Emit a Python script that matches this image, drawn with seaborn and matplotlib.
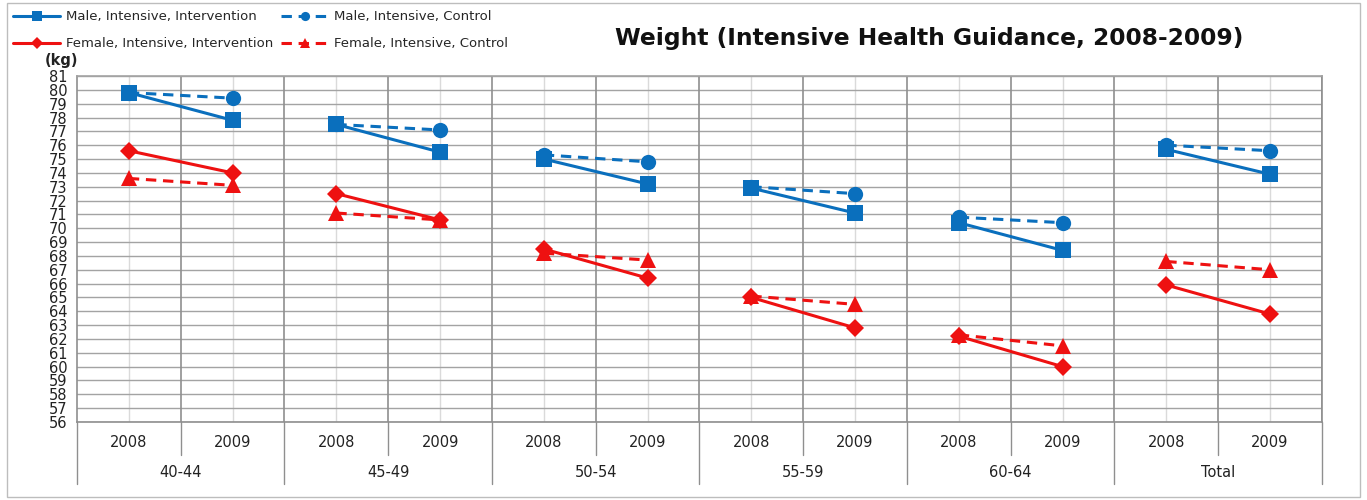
import numpy as np
import pandas as pd
import matplotlib
matplotlib.use("Agg")
import matplotlib.pyplot as plt
import matplotlib.transforms as mtransforms
from matplotlib.lines import Line2D
from matplotlib.patches import Rectangle
import seaborn as sns

# Age groups, survey years and mean body weight (kg) per series
groups = ["40-44", "45-49", "50-54", "55-59", "60-64", "Total"]
years = ["2008", "2009"]

male_intervention = [79.8, 77.8, 77.5, 75.5, 75.0, 73.2, 72.9, 71.1, 70.4, 68.4, 75.7, 73.9]
male_control = [79.8, 79.4, 77.5, 77.1, 75.3, 74.8, 73.0, 72.5, 70.8, 70.4, 76.0, 75.6]
female_intervention = [75.6, 74.0, 72.5, 70.6, 68.5, 66.4, 65.0, 62.8, 62.2, 60.0, 65.9, 63.8]
female_control = [73.6, 73.1, 71.1, 70.6, 68.2, 67.7, 65.1, 64.5, 62.3, 61.5, 67.6, 67.0]

series_names = [
    "Male, Intensive, Intervention",
    "Male, Intensive, Control",
    "Female, Intensive, Intervention",
    "Female, Intensive, Control",
]
series_values = [male_intervention, male_control, female_intervention, female_control]

BLUE = "#0a6fbd"
RED = "#ee1111"
DASH = (0, (3.4, 2.2))
styles = {
    "Male, Intensive, Intervention": dict(color=BLUE, marker="s", ls="-", ms=11),
    "Male, Intensive, Control": dict(color=BLUE, marker="o", ls=DASH, ms=11),
    "Female, Intensive, Intervention": dict(color=RED, marker="D", ls="-", ms=9.5),
    "Female, Intensive, Control": dict(color=RED, marker="^", ls=DASH, ms=11),
}

rows = []
for name, vals in zip(series_names, series_values):
    for i, v in enumerate(vals):
        rows.append({"series": name, "x": i, "group": i // 2, "weight": v})
df = pd.DataFrame(rows)

sns.set_theme(style="white")
plt.rcParams["font.family"] = ["DejaVu Sans"]

fig = plt.figure(figsize=(13.67, 5), dpi=100)
ax = fig.add_axes([0.0563, 0.156, 0.9107, 0.692])

# one line segment per age group (2008 -> 2009)
for name in series_names:
    st = styles[name]
    sns.lineplot(
        data=df[df["series"] == name], x="x", y="weight", units="group",
        estimator=None, sort=False, color=st["color"], marker=st["marker"],
        linestyle=st["ls"], markersize=st["ms"], markeredgewidth=0,
        linewidth=2.2, legend=False, ax=ax, zorder=5,
    )

n = len(groups) * len(years)
ax.set_xlim(-0.5, n - 0.5)
ax.set_ylim(56, 81)
ax.set_yticks(range(56, 82))
ax.set_xticks(range(n))
ax.set_xticklabels([])
ax.set_xlabel("")
ax.set_ylabel("")

ax.yaxis.grid(True, color="#a3a3a3", lw=1.0, zorder=0)
ax.xaxis.grid(True, color="#dadada", lw=1.0, zorder=0)
ax.vlines(np.arange(0.5, n, 1.0), 56, 81, color="#8f8f8f", lw=1.2, zorder=1)
ax.tick_params(axis="x", length=0)
ax.tick_params(axis="y", length=6, width=1, color="#a3a3a3", labelsize=10.5,
               pad=1, labelcolor="#222222")
for side in ["left", "right", "top", "bottom"]:
    ax.spines[side].set_color("#8f8f8f")
    ax.spines[side].set_linewidth(1.2)
ax.spines["top"].set_color("#a3a3a3")

# two-level category axis below the plot
trans = mtransforms.blended_transform_factory(ax.transData, ax.transAxes)
for i in range(n):
    ax.text(i, -0.058, years[i % 2], transform=trans, ha="center", va="center",
            fontsize=10.5, color="#222222")
for g, label in enumerate(groups):
    ax.text(2 * g + 0.5, -0.147, label, transform=trans, ha="center", va="center",
            fontsize=10.5, color="#222222")
for k in range(len(groups)):
    ax.plot([2 * k + 0.5] * 2, [0, -0.095], transform=trans, color="#8f8f8f",
            lw=1, clip_on=False)
for k in range(len(groups) + 1):
    ax.plot([2 * k - 0.5] * 2, [0, -0.18], transform=trans, color="#8f8f8f",
            lw=1, clip_on=False)

# legend
handles = []
order = [0, 2, 1, 3]
for idx in order:
    name = series_names[idx]
    st = styles[name]
    handles.append(Line2D([0], [0], color=st["color"], marker=st["marker"],
                          linestyle=st["ls"], lw=2.2, markeredgewidth=0,
                          markersize=st["ms"] * 0.6, label=name))
fig.legend(handles=handles, loc="upper left", bbox_to_anchor=(0.006, 0.99),
           ncol=2, frameon=False, fontsize=9.5, handlelength=3.5,
           handletextpad=0.5, columnspacing=0.6, labelspacing=1.05,
           borderaxespad=0.0)

fig.text(0.045, 0.88, "(kg)", ha="center", va="center", fontsize=10.5,
         fontweight="bold", color="#222222")
fig.text(0.68, 0.924, "Weight (Intensive Health Guidance, 2008-2009)",
         ha="center", va="center", fontsize=16.8, fontweight="bold", color="#111111")

fig.patches.append(Rectangle((0.005, 0.006), 0.99, 0.988, transform=fig.transFigure,
                             fill=False, edgecolor="#bdbdbd", lw=1))

fig.savefig("out.png", dpi=100)
